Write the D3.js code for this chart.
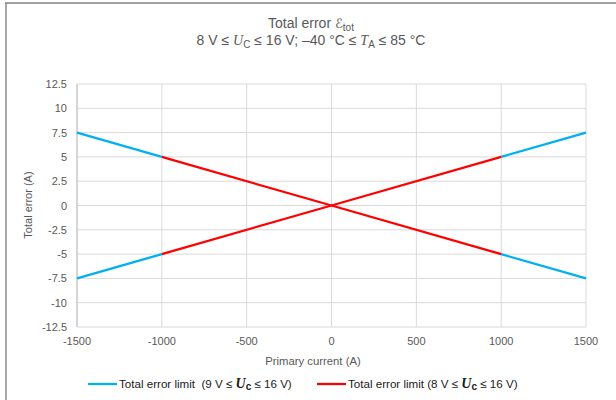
<!DOCTYPE html>
<html>
<head>
<meta charset="utf-8">
<script src="https://cdn.jsdelivr.net/npm/d3@7"></script>
<style>
  body { margin: 0; background: #fff; }
  svg { font-family: "Liberation Sans", Arial, sans-serif; }
  text { white-space: pre; }
</style>
</head>
<body>
<svg id="chart" width="616" height="400"></svg>
<script>
"use strict";

// chart values
const xTicks = [-1500, -1000, -500, 0, 500, 1000, 1500];
const yTicks = [-12.5, -10, -7.5, -5, -2.5, 0, 2.5, 5, 7.5, 10, 12.5];
// 9 V limit is only visible outside +-1000 A (the 8 V limit covers the middle)
const current9 = [-1500, -1000, null, 1000, 1500];
const limit9Upper = [7.5, 5, null, -5, -7.5];
const limit9Lower = [-7.5, -5, null, 5, 7.5];
const current8 = [-1000, 0, 1000];
const limit8Upper = [5, 0, -5];
const limit8Lower = [-5, 0, 5];

const svg = d3.select("#chart");
const grey = "#595959";

// frame of the picture
svg.append("line").attr("x1", 5).attr("x2", 616).attr("y1", 3).attr("y2", 3)
    .attr("stroke", "#7f7f7f").attr("stroke-width", 1.5);
svg.append("line").attr("x1", 6).attr("x2", 6).attr("y1", 3).attr("y2", 400)
    .attr("stroke", "#8c8c8c").attr("stroke-width", 1.5);

const x = d3.scaleLinear().domain([-1500, 1500]).range([77, 586]);
const y = d3.scaleLinear().domain([-12.5, 12.5]).range([327, 84]);

// gridlines
svg.append("g").selectAll("line").data(yTicks).join("line")
    .attr("x1", x(-1500)).attr("x2", x(1500))
    .attr("y1", d => y(d)).attr("y2", d => y(d))
    .attr("stroke", "#d9d9d9").attr("stroke-width", 1);
svg.append("g").selectAll("line").data(xTicks).join("line")
    .attr("x1", d => x(d)).attr("x2", d => x(d))
    .attr("y1", y(12.5)).attr("y2", y(-12.5))
    .attr("stroke", "#d9d9d9").attr("stroke-width", 1);
svg.append("line").attr("x1", x(-1500)).attr("x2", x(-1500))
    .attr("y1", y(12.5)).attr("y2", y(-12.5))
    .attr("stroke", "#bfbfbf");

// tick labels
svg.append("g").selectAll("text").data(yTicks).join("text")
    .attr("x", 67).attr("y", d => y(d) + 4)
    .attr("text-anchor", "end").attr("font-size", 11).attr("fill", grey)
    .text(d => d);
svg.append("g").selectAll("text").data(xTicks).join("text")
    .attr("x", d => x(d)).attr("y", 345)
    .attr("text-anchor", "middle").attr("font-size", 11).attr("fill", grey)
    .text(d => d);

// axis titles
svg.append("text").attr("x", 313).attr("y", 365)
    .attr("text-anchor", "middle").attr("font-size", 11.3).attr("fill", grey)
    .text("Primary current (A)");
svg.append("text").attr("transform", "translate(32,205) rotate(-90)")
    .attr("text-anchor", "middle").attr("font-size", 11).attr("fill", grey)
    .text("Total error (A)");

// chart title
const t1 = svg.append("text").attr("x", 311).attr("y", 28)
    .attr("text-anchor", "middle").attr("font-size", 14).attr("fill", grey);
t1.append("tspan").text("Total error ");
t1.append("tspan").attr("font-family", "DejaVu Sans").attr("font-size", 13).text("\u2130");
t1.append("tspan").attr("font-size", 10).attr("dy", 3).text("tot");

const t2 = svg.append("text").attr("x", 311).attr("y", 45)
    .attr("text-anchor", "middle").attr("font-size", 14).attr("fill", grey);
t2.append("tspan").text("8 V \u2264 ");
t2.append("tspan").attr("font-style", "italic").attr("font-family", "Liberation Serif").text("U");
t2.append("tspan").attr("font-size", 10).attr("dy", 3).text("C");
t2.append("tspan").attr("dy", -3).text(" \u2264 16 V; \u201340 \u00b0C \u2264 ");
t2.append("tspan").attr("font-style", "italic").attr("font-family", "Liberation Serif").text("T");
t2.append("tspan").attr("font-size", 10).attr("dy", 3).text("A");
t2.append("tspan").attr("dy", -3).text(" \u2264 85 \u00b0C");

// lines
const line = d3.line().defined(d => d[1] !== null).x(d => x(d[0])).y(d => y(d[1]));
const blue = "#00b0f0", red = "#ff0000";
[limit9Upper, limit9Lower].forEach(vals => {
    svg.append("path").datum(current9.map((c, i) => [c, vals[i]]))
        .attr("d", line).attr("fill", "none")
        .attr("stroke", blue).attr("stroke-width", 2.25);
});
[limit8Upper, limit8Lower].forEach(vals => {
    svg.append("path").datum(current8.map((c, i) => [c, vals[i]]))
        .attr("d", line).attr("fill", "none")
        .attr("stroke", red).attr("stroke-width", 2.25);
});

// legend
const legend = [
    { color: blue, x: 88, label: "Total error limit  (9 V \u2264 " },
    { color: red, x: 317, label: "Total error limit (8 V \u2264 " }
];
legend.forEach(l => {
    svg.append("line").attr("x1", l.x).attr("x2", l.x + 29).attr("y1", 384).attr("y2", 384)
        .attr("stroke", l.color).attr("stroke-width", 2.25);
    const t = svg.append("text").attr("x", l.x + 31).attr("y", 388)
        .attr("font-size", 11.6).attr("fill", "#1a1a1a");
    t.append("tspan").text(l.label);
    t.append("tspan").attr("font-style", "italic").attr("font-weight", "bold")
        .attr("font-family", "Liberation Serif").attr("font-size", 14).text("U");
    t.append("tspan").attr("font-weight", "bold").attr("font-size", 10).attr("dy", 2).text("c");
    t.append("tspan").attr("dy", -2).text(" \u2264 16 V)");
});
</script>
</body>
</html>
